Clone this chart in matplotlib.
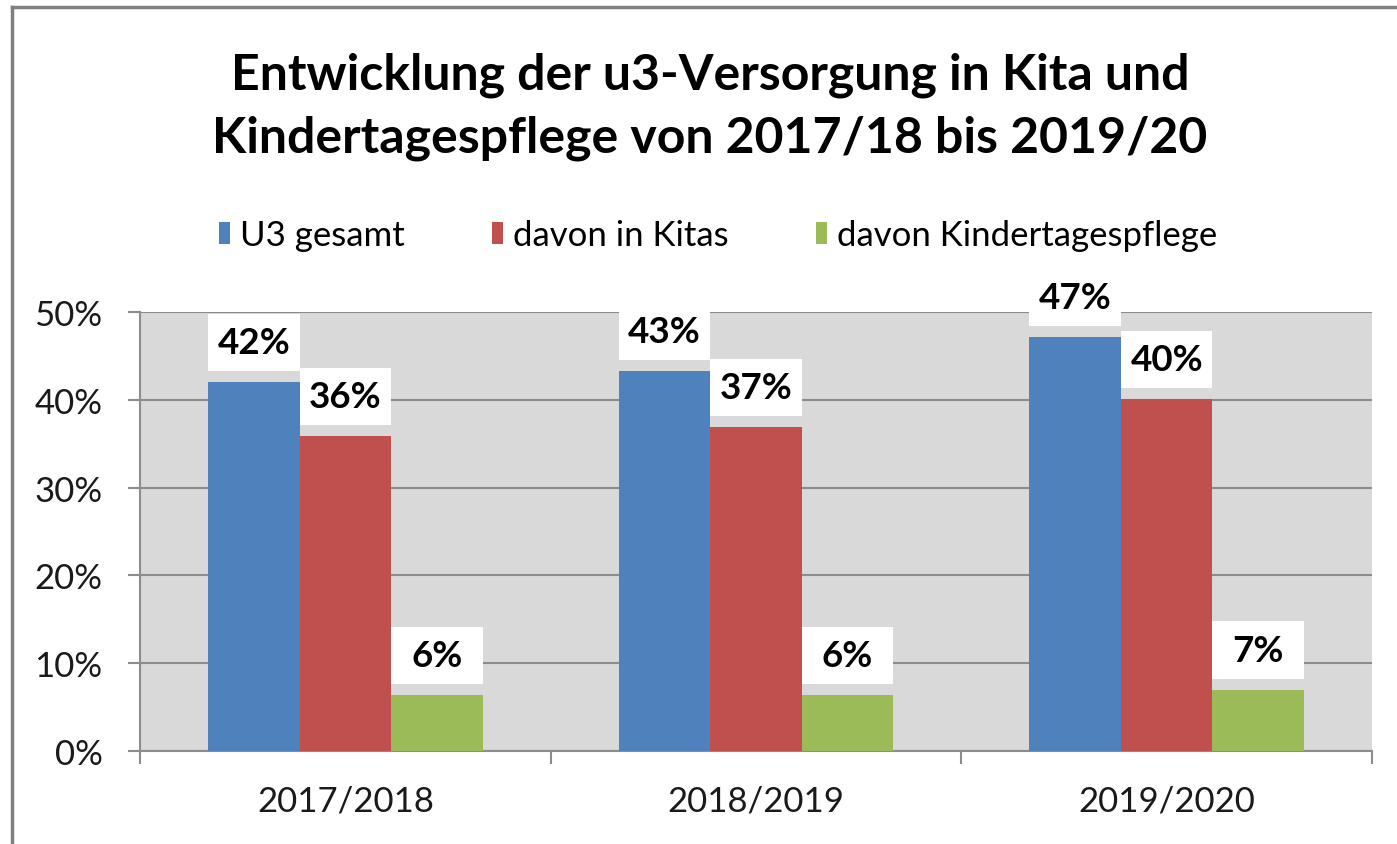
import matplotlib
matplotlib.use("Agg")
import matplotlib.pyplot as plt
from matplotlib.patches import Rectangle
from matplotlib.lines import Line2D
import numpy as np

plt.rcParams['font.family'] = ['Lato', 'DejaVu Sans']

categories = ["2017/2018", "2018/2019", "2019/2020"]
series_names = ["U3 gesamt", "davon in Kitas", "davon Kindertagespflege"]
u3_gesamt = [42.0, 43.3, 47.2]
in_kitas = [35.9, 36.9, 40.1]
tagespflege = [6.4, 6.4, 7.0]
labels_gesamt = ["42%", "43%", "47%"]
labels_kitas = ["36%", "37%", "40%"]
labels_pflege = ["6%", "6%", "7%"]
colors = ["#4f81bd", "#c0504d", "#9bbb59"]
yticks = [0, 10, 20, 30, 40, 50]

W, H = 1397, 845
fig = plt.figure(figsize=(W / 100, H / 100), dpi=100)
ax = fig.add_axes([140 / W, 1 - 752 / H, (1372 - 140) / W, (752 - 313) / H])
ax.set_facecolor("#d9d9d9")

x = np.arange(len(categories))
bw = 0.223
series = [u3_gesamt, in_kitas, tagespflege]
labels = [labels_gesamt, labels_kitas, labels_pflege]
for i, (vals, labs) in enumerate(zip(series, labels)):
    pos = x + (i - 1) * bw
    ax.bar(pos, vals, width=bw, color=colors[i], zorder=3, label=series_names[i])
    for p, v, t in zip(pos, vals, labs):
        # white label box above each bar
        ax.add_patch(Rectangle((p - bw / 2, v + 1.25), bw, 6.5, facecolor="white",
                               edgecolor="none", zorder=4, clip_on=False))
        ax.text(p, v + 4.5, t, ha="center", va="center", fontsize=26.5,
                fontweight="bold", zorder=5)

ax.set_xlim(-0.5, 2.5)
ax.set_ylim(0, 50)
ax.set_yticks(yticks)
ax.set_yticklabels([f"{t}%" for t in yticks], fontsize=25, color="#1a1a1a")
ax.yaxis.grid(True, color="#8c8c8c", linewidth=1.5, zorder=1)
ax.set_axisbelow(True)

ax.set_xticks(x)
ax.set_xticklabels(categories, fontsize=25, color="#1a1a1a")
ax.tick_params(axis="x", length=0, pad=24)
ax.set_xticks([-0.5, 0.5, 1.5, 2.5], minor=True)
ax.tick_params(axis="x", which="minor", length=9.5, width=1.5, color="#8c8c8c")
ax.tick_params(axis="y", length=9, width=1.5, color="#8c8c8c", pad=18)

for s in ["top", "right"]:
    ax.spines[s].set_visible(False)
for s in ["left", "bottom"]:
    ax.spines[s].set_color("#8c8c8c")
    ax.spines[s].set_linewidth(1.5)

fig.text(710 / W, 1 - 75 / H, "Entwicklung der u3-Versorgung in Kita und",
         ha="center", va="center", fontsize=36, fontweight="bold")
fig.text(710 / W, 1 - 138 / H, "Kindertagespflege von 2017/18 bis 2019/20",
         ha="center", va="center", fontsize=36, fontweight="bold")

leg = fig.legend(loc="center", bbox_to_anchor=(718 / W, 1 - 236 / H), ncol=3,
                 frameon=False, fontsize=25, handlelength=0.32, handleheight=0.62,
                 handletextpad=0.3, columnspacing=2.5)

# outer chart border (top and left visible)
fig.add_artist(Line2D([12 / W, 12 / W], [0, 1 - 8 / H], color="#808080", linewidth=2.5))
fig.add_artist(Line2D([12 / W, 1], [1 - 8 / H, 1 - 8 / H], color="#808080", linewidth=2.5))

fig.savefig("out.png", dpi=100)
